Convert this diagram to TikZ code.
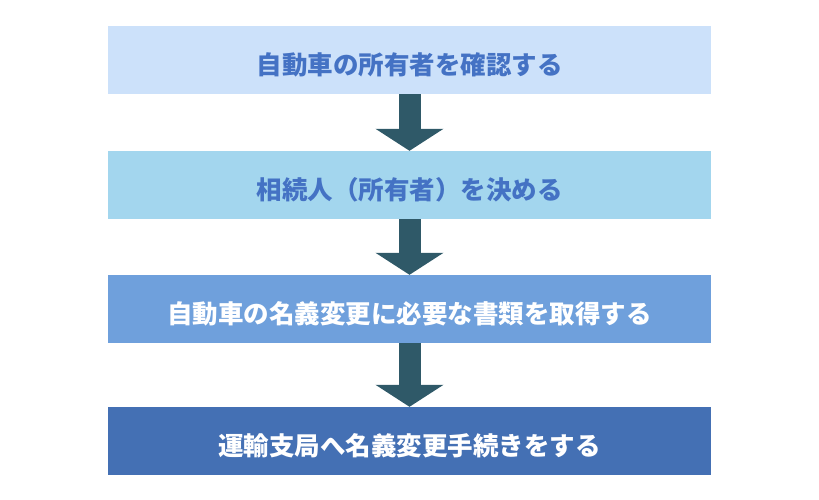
\documentclass[tikz,border=0pt]{standalone}
\usepackage{fontspec}
\newfontfamily\jpfont{Noto Sans CJK JP}
\usetikzlibrary{arrows.meta}
\definecolor{boxa}{HTML}{CCE1FA}
\definecolor{boxb}{HTML}{A3D6EE}
\definecolor{boxc}{HTML}{6FA0DC}
\definecolor{boxd}{HTML}{4470B4}
\definecolor{txtblue}{HTML}{4472C4}
\definecolor{arrowcol}{HTML}{2F5968}
\begin{document}
\begin{tikzpicture}[x=1pt,y=-1pt,
    stepbox/.style={minimum width=603pt,minimum height=68pt,inner sep=0pt,
      text height=28pt,text depth=0pt,
      font=\jpfont\bfseries\fontsize{25.5}{30}\selectfont},
    flow/.style={arrowcol,line width=22pt,
      -{Triangle[width=67pt,length=22pt]}}]
  \useasboundingbox (0,0) rectangle (819,499);

  \node[stepbox,fill=boxa,text=txtblue] (own) at (409.5,60) {自動車の所有者を確認する};
  \node[stepbox,fill=boxb,text=txtblue] (heir) at (409.5,185) {相続人（所有者）を決める};
  \node[stepbox,fill=boxc,text=white] (docs) at (409.5,309) {自動車の名義変更に必要な書類を取得する};
  \node[stepbox,fill=boxd,text=white] (office) at (409.5,441) {運輸支局へ名義変更手続きをする};

  \draw[flow] (own) -- (heir);
  \draw[flow] (heir) -- (docs);
  \draw[flow] (docs) -- (office);
\end{tikzpicture}
\end{document}
